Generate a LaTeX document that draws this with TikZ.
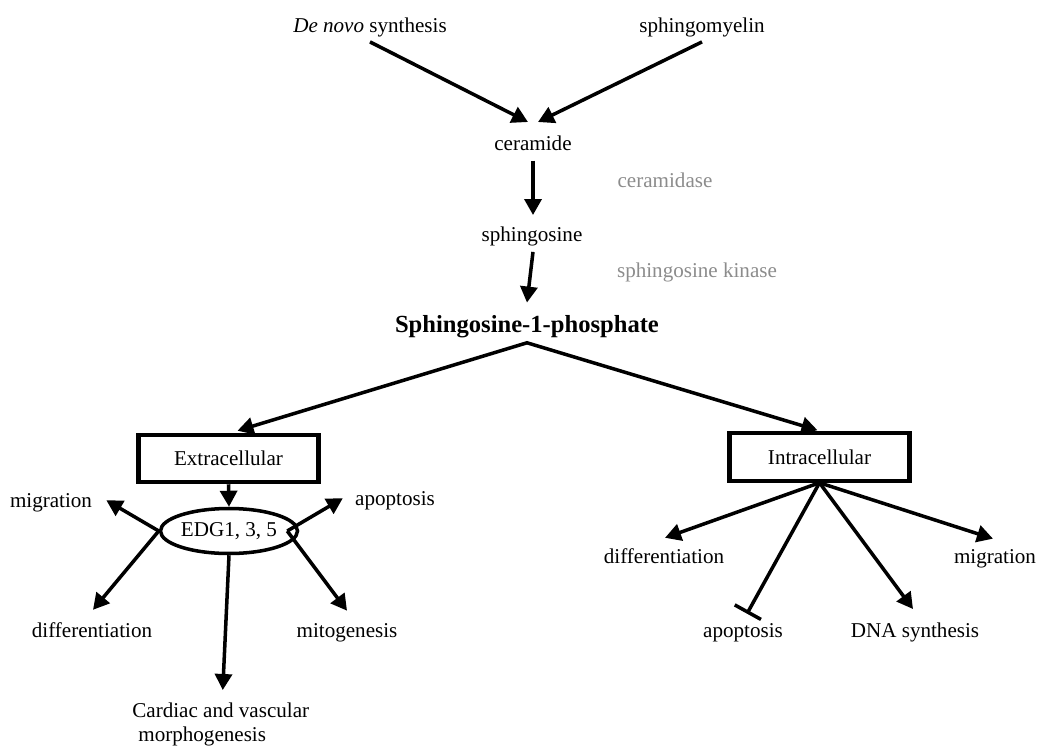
\documentclass[tikz,border=0pt]{standalone}
\usepackage{fontspec}
\setmainfont{Liberation Serif}
\usetikzlibrary{arrows.meta,calc,shapes.geometric}
\definecolor{enzgray}{gray}{0.55}
\begin{document}
\begin{tikzpicture}[x=0.2mm,y=-0.2mm]
\tikzstyle{every node}+=[inner sep=1mm, font=\fontsize{12}{14}\selectfont]
\tikzstyle{lbl}=[anchor=base]
\tikzstyle{enz}=[anchor=base, text=enzgray]
\tikzstyle{cellbox}=[draw, line width=2.3pt, minimum height=9.5mm, minimum width=36mm]
\tikzstyle{arr}=[line width=2pt, -{Triangle[length=3.2mm,width=3.4mm]}]
\tikzstyle{blk}=[line width=2pt, -{Bar[width=6mm,line width=2pt]}]
\useasboundingbox (0,0) rectangle (1037,747);
\node [lbl] (denovo) at (370,32) {\textit{De novo} synthesis};
\node [lbl] (sphmy) at (702,32) {sphingomyelin};
\node [lbl] (ceram) at (533,150) {ceramide};
\node [enz] (cerdase) at (665,187) {ceramidase};
\node [lbl] (sphgo) at (532,241) {sphingosine};
\node [enz] (sphkin) at (697,277) {sphingosine kinase};
\node [lbl, font=\fontsize{14}{16}\selectfont\bfseries] (s1p) at (527,332) {Sphingosine-1-phosphate};
\node [cellbox] (extra) at (228.5,458.5) {Extracellular};
\node [cellbox] (intra) at (819.5,457) {Intracellular};
\node [draw, ellipse, line width=2pt, minimum width=27.4mm, minimum height=9mm, inner sep=0pt] (edg) at (229,531) {EDG1, 3, 5};
\node [lbl] (migL) at (51,507) {migration};
\node [lbl] (apoL) at (395,505) {apoptosis};
\node [lbl] (difL) at (92,637) {differentiation};
\node [lbl] (mito) at (347,637) {mitogenesis};
\node [anchor=north west, align=left, font=\fontsize{12}{13.6}\selectfont] (cardiac) at (127,698) {Cardiac and vascular\\\hspace*{1.2mm}morphogenesis};
\node [lbl] (difR) at (664,563) {differentiation};
\node [lbl] (migR) at (995,563) {migration};
\node [lbl] (apoR) at (743,637) {apoptosis};
\node [lbl] (dna) at (915,637) {DNA synthesis};
\draw [arr] (denovo.south) -- ($(ceram.north)+(-5,-8)$);
\draw [arr] (sphmy.south) -- ($(ceram.north)+(5,-8)$);
\draw [arr] ($(ceram.south)+(0,5)$) -- ($(sphgo.north)+(1,-6)$);
\draw [arr] ($(sphgo.south)+(1,1)$) -- ($(s1p.north)+(0,-7)$);
\draw [line width=2pt, {Triangle[length=3.2mm,width=3.4mm]}-{Triangle[length=3.2mm,width=3.4mm]}] ($(extra.north)+(9,-2)$) -- (s1p.south) -- ($(intra.north)+(-2,-1)$);
\draw [arr] (extra.south) -- (edg.north);
\draw [arr] (edg.west) -- ($(migL.east)+(9,-2)$);
\draw [arr] (edg.west) -- ($(difL.north)+(1,-7)$);
\draw [arr] ($(edg.east)+(-12,0)$) -- ($(apoL.west)+(-7,-2)$);
\draw [arr] ($(edg.east)+(-12,0)$) -- ($(mito.north)+(0,-7)$);
\draw [arr] (edg.south) -- ($(cardiac.north)+(2,-8)$);
\draw [arr] (intra.south) -- ($(difR.north)+(1,-5)$);
\draw [blk] (intra.south) -- ($(apoR.north)+(4,-4)$);
\draw [arr] (intra.south) -- ($(dna.north)+(-2,-8)$);
\draw [arr] (intra.south) -- ($(migR.north)+(-2,-5)$);
\end{tikzpicture}
\end{document}
